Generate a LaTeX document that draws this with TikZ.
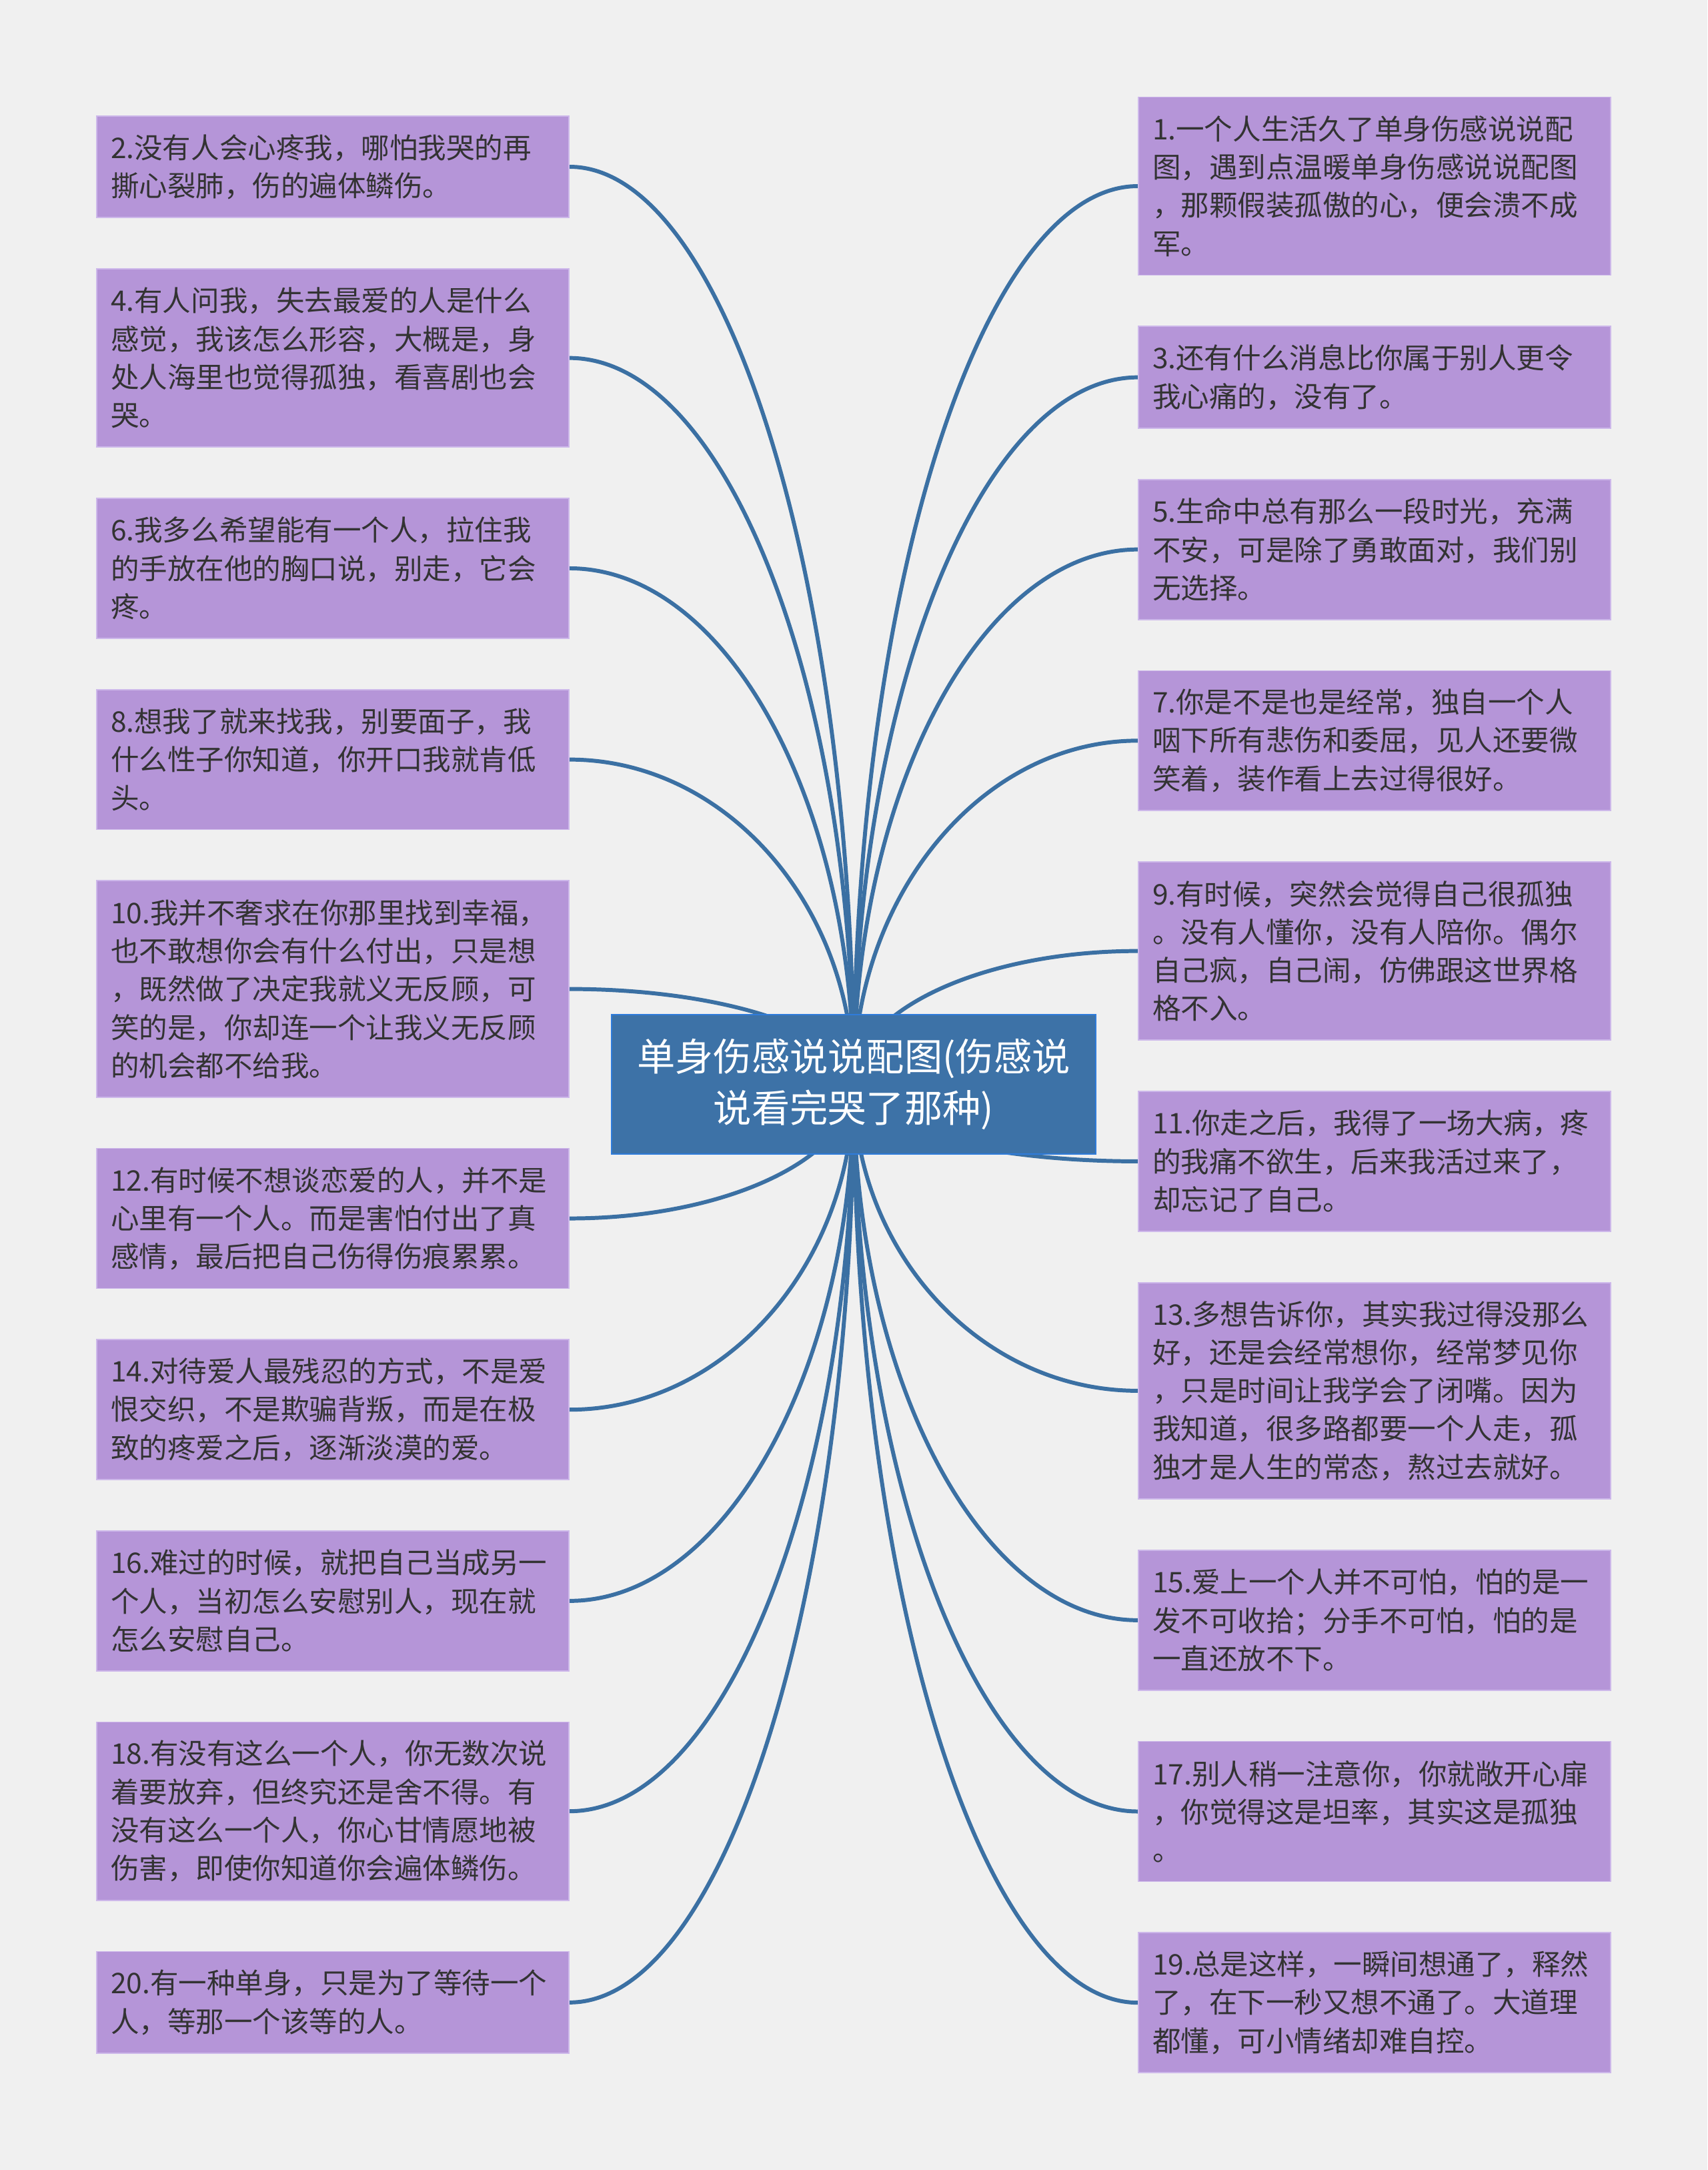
\documentclass[tikz,border=0pt]{standalone}
\usepackage{fontspec}
\newfontfamily\cjk{Noto Sans CJK SC}
\usetikzlibrary{positioning,calc,backgrounds}
\definecolor{pagegray}{HTML}{F0F0F0}
\definecolor{leafpurple}{HTML}{B595D8}
\definecolor{leafline}{HTML}{CDB8EA}
\definecolor{leaftext}{HTML}{333333}
\definecolor{topicblue}{HTML}{3D72A7}
\definecolor{topicline}{HTML}{2F7CDB}
\definecolor{branchblue}{HTML}{3B70A3}

\begin{document}
\begin{tikzpicture}[
topic/.style={draw=topicline,line width=0.7pt,fill=topicblue,text=white,align=center,
minimum width=7.26cm,minimum height=2.09cm,inner sep=0pt,font=\cjk\fontsize{16.3}{21.9}\selectfont},
leaf/.style={draw=leafline,line width=0.5pt,fill=leafpurple,text=leaftext,align=left,
text width=6.66cm,inner xsep=2.1mm,inner ysep=0pt,minimum height=#1*5.73mm+3.8mm,
font=\cjk\fontsize{12.1}{16.3}\selectfont},
branch/.style={draw=branchblue,line width=1.7pt},
node distance=7.5mm]
\useasboundingbox (0,0) rectangle (25.6,-32.53);
\node[topic] (root) at (12.80,-16.255) {单身伤感说说配图(伤感说\\说看完哭了那种)};
% left column
\node[leaf=2] (c2) at (4.99,-2.50) {2.没有人会心疼我，哪怕我哭的再\\撕心裂肺，伤的遍体鳞伤。};
\node[leaf=4,below=of c2] (c4) {4.有人问我，失去最爱的人是什么\\感觉，我该怎么形容，大概是，身\\处人海里也觉得孤独，看喜剧也会\\哭。};
\node[leaf=3,below=of c4] (c6) {6.我多么希望能有一个人，拉住我\\的手放在他的胸口说，别走，它会\\疼。};
\node[leaf=3,below=of c6] (c8) {8.想我了就来找我，别要面子，我\\什么性子你知道，你开口我就肯低\\头。};
\node[leaf=5,below=of c8] (c10) {10.我并不奢求在你那里找到幸福，\\也不敢想你会有什么付出，只是想\\，既然做了决定我就义无反顾，可\\笑的是，你却连一个让我义无反顾\\的机会都不给我。};
\node[leaf=3,below=of c10] (c12) {12.有时候不想谈恋爱的人，并不是\\心里有一个人。而是害怕付出了真\\感情，最后把自己伤得伤痕累累。};
\node[leaf=3,below=of c12] (c14) {14.对待爱人最残忍的方式，不是爱\\恨交织，不是欺骗背叛，而是在极\\致的疼爱之后，逐渐淡漠的爱。};
\node[leaf=3,below=of c14] (c16) {16.难过的时候，就把自己当成另一\\个人，当初怎么安慰别人，现在就\\怎么安慰自己。};
\node[leaf=4,below=of c16] (c18) {18.有没有这么一个人，你无数次说\\着要放弃，但终究还是舍不得。有\\没有这么一个人，你心甘情愿地被\\伤害，即使你知道你会遍体鳞伤。};
\node[leaf=2,below=of c18] (c20) {20.有一种单身，只是为了等待一个\\人，等那一个该等的人。};
% right column
\node[leaf=4] (c1) at (20.61,-2.79) {1.一个人生活久了单身伤感说说配\\图，遇到点温暖单身伤感说说配图\\，那颗假装孤傲的心，便会溃不成\\军。};
\node[leaf=2,below=of c1] (c3) {3.还有什么消息比你属于别人更令\\我心痛的，没有了。};
\node[leaf=3,below=of c3] (c5) {5.生命中总有那么一段时光，充满\\不安，可是除了勇敢面对，我们别\\无选择。};
\node[leaf=3,below=of c5] (c7) {7.你是不是也是经常，独自一个人\\咽下所有悲伤和委屈，见人还要微\\笑着，装作看上去过得很好。};
\node[leaf=4,below=of c7] (c9) {9.有时候，突然会觉得自己很孤独\\。没有人懂你，没有人陪你。偶尔\\自己疯，自己闹，仿佛跟这世界格\\格不入。};
\node[leaf=3,below=of c9] (c11) {11.你走之后，我得了一场大病，疼\\的我痛不欲生，后来我活过来了，\\却忘记了自己。};
\node[leaf=5,below=of c11] (c13) {13.多想告诉你，其实我过得没那么\\好，还是会经常想你，经常梦见你\\，只是时间让我学会了闭嘴。因为\\我知道，很多路都要一个人走，孤\\独才是人生的常态，熬过去就好。};
\node[leaf=3,below=of c13] (c15) {15.爱上一个人并不可怕，怕的是一\\发不可收拾；分手不可怕，怕的是\\一直还放不下。};
\node[leaf=3,below=of c15] (c17) {17.别人稍一注意你，你就敞开心扉\\，你觉得这是坦率，其实这是孤独\\。};
\node[leaf=3,below=of c17] (c19) {19.总是这样，一瞬间想通了，释然\\了，在下一秒又想不通了。大道理\\都懂，可小情绪却难自控。};
\begin{scope}[on background layer]
\fill[pagegray] (0,0) rectangle (25.6,-32.53);
\foreach \c/\a in {c2/east,c4/east,c6/east,c8/east,c10/east,c12/east,c14/east,c16/east,c18/east,c20/east,
c1/west,c3/west,c5/west,c7/west,c9/west,c11/west,c13/west,c15/west,c17/west,c19/west}
\draw[branch] (root.center) .. controls ($(root.center)!0.55!(root.center|-\c.\a)$)
and ($(\c.\a)!0.55!(root.center|-\c.\a)$) .. (\c.\a);
\end{scope}
\end{tikzpicture}
\end{document}
